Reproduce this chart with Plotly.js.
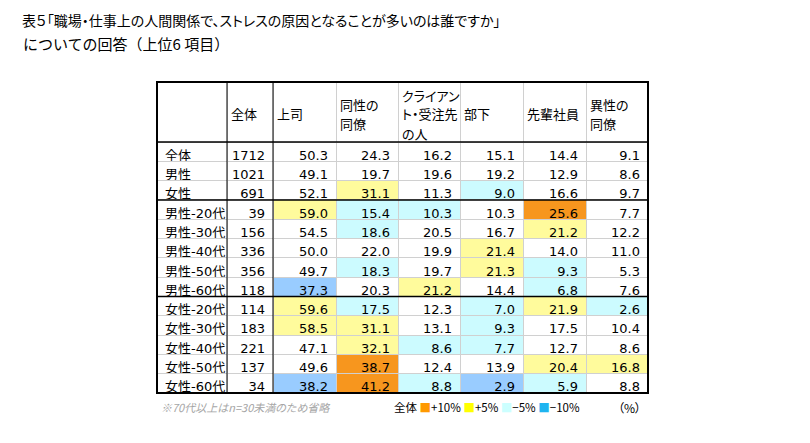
<!DOCTYPE html>
<html><head><meta charset="utf-8">
<script src="https://cdn.plot.ly/plotly-3.0.1.min.js"></script>
<style>
html,body{margin:0;padding:0;background:#fff;}
#chart{width:810px;height:443px;}
text, tspan{font-feature-settings:"palt" 1;}
text[style*="15.01px"], text[style*="15.01px"] tspan{font-feature-settings:normal;}
</style></head><body><div id="chart"></div>
<script>
// ---- data ----
const rowLabels = ['全体','男性','女性','男性-20代','男性-30代','男性-40代','男性-50代','男性-60代','女性-20代','女性-30代','女性-40代','女性-50代','女性-60代'];
const sampleSizes = [1712,1021,691,39,156,336,356,118,114,183,221,137,34];
const headerLabels = ['全体','上司','同性の<br>同僚','クライアン<br>ト・受注先<br>の人','部下','先輩社員','異性の<br>同僚'];
const joshi      = [50.3,49.1,52.1,59.0,54.5,50.0,49.7,37.3,59.6,58.5,47.1,49.6,38.2];
const doseiDoryo = [24.3,19.7,31.1,15.4,18.6,22.0,18.3,20.3,17.5,31.1,32.1,38.7,41.2];
const client     = [16.2,19.6,11.3,10.3,20.5,19.9,19.7,21.2,12.3,13.1,8.6,12.4,8.8];
const buka       = [15.1,19.2,9.0,10.3,16.7,21.4,21.3,14.4,7.0,9.3,7.7,13.9,2.9];
const senpai     = [14.4,12.9,16.6,25.6,21.2,14.0,9.3,6.8,21.9,17.5,12.7,20.4,5.9];
const iseiDoryo  = [9.1,8.6,9.7,7.7,12.2,11.0,5.3,7.6,2.6,10.4,8.6,16.8,8.8];
const legendPrefix = '全体';
const legendLabels = ['+10%','+5%','−5%','−10%'];
const footnote = '※70代以上はn=30未満のため省略';
const unitLabel = '（%）';
const titleLine1 = '表５「職場・仕事上の人間関係で、ストレスの原因となることが多いのは誰ですか」';
const titleLine2 = 'についての回答（上位6 項目）';

// ---- styles / layout constants ----
const W = 810, H = 443;
const FONT = 'DejaVu Sans, Noto Sans CJK JP, sans-serif';
const JFONT = 'Noto Sans CJK JP, sans-serif';
const C_ORANGE = '#F7961E', C_YELLOW = '#FFFB9C', C_CYAN = '#CCFBFF', C_BLUE = '#99CCFF';
const L_ORANGE = '#FF9900', L_YELLOW = '#FFFF00', L_CYAN = '#CCFFFF', L_BLUE = '#1EB4F0';
const colEdges = [157,227,273,336,398,460,523,586,648];
const tableTop = 82, headerH = 60, rowH = 19.3, headerLineH = 19;
const px = x => x / W, py = y => 1 - y / H;

const valueCols = [joshi, doseiDoryo, client, buka, senpai, iseiDoryo];
function cellColor(v, base) {
  const d = Math.round((v - base) * 10) / 10;
  if (d >= 10) return C_ORANGE;
  if (d >= 5) return C_YELLOW;
  if (d <= -10) return C_BLUE;
  if (d <= -5) return C_CYAN;
  return '#ffffff';
}
const fillColors = [rowLabels.map(() => '#ffffff'), sampleSizes.map(() => '#ffffff')]
  .concat(valueCols.map(col => col.map(v => cellColor(v, col[0]))));

const colWidths = [];
for (let i = 0; i < colEdges.length - 1; i++) colWidths.push(colEdges[i+1] - colEdges[i]);
const tableBottom = tableTop + headerH + rowH * rowLabels.length;

const trace = {
  type: 'table',
  domain: {x: [px(colEdges[0]), px(colEdges[colEdges.length-1])], y: [py(tableBottom + 8), py(tableTop)]},
  columnwidth: colWidths,
  header: {
    values: colWidths.map(() => ''),
    height: headerH,
    fill: {color: '#ffffff'},
    line: {color: '#d0d0d0', width: 1},
    font: {family: FONT, size: 13, color: '#000'}
  },
  cells: {
    values: [rowLabels, sampleSizes].concat(valueCols),
    format: ['', 'd', '.1f', '.1f', '.1f', '.1f', '.1f', '.1f'],
    align: ['left', 'right', 'right', 'right', 'right', 'right', 'right', 'right'],
    height: rowH,
    fill: {color: fillColors},
    line: {color: '#d0d0d0', width: 1},
    font: {family: FONT, size: 13, color: '#000'}
  }
};

const shapes = [];
shapes.push({type: 'rect', xref: 'paper', yref: 'paper', x0: px(colEdges[0]), x1: px(colEdges[colEdges.length-1]), y0: py(tableTop), y1: py(tableBottom), line: {color: '#000', width: 2}});
[0, 3, 8].forEach(r => {
  const y = tableTop + headerH + r * rowH;
  shapes.push({type: 'line', xref: 'paper', yref: 'paper', x0: px(colEdges[0]), x1: px(colEdges[colEdges.length-1]), y0: py(y), y1: py(y), line: {color: '#000', width: 1.5}});
});
[1, 2].forEach(c => {
  shapes.push({type: 'line', xref: 'paper', yref: 'paper', x0: px(colEdges[c]), x1: px(colEdges[c]), y0: py(tableTop), y1: py(tableBottom), line: {color: '#000', width: 1}});
});

const annotations = [];
const headerMid = tableTop + headerH / 2 + 2;
headerLabels.forEach((t, i) => {
  const lines = t.split('<br>');
  lines.forEach((ln, k) => {
    const yc = headerMid + (k - (lines.length - 1) / 2) * headerLineH;
    annotations.push({xref: 'paper', yref: 'paper', x: px(colEdges[i+1] + 2), y: py(yc), xanchor: 'left', yanchor: 'middle', align: 'left', showarrow: false, text: ln, font: {family: JFONT, size: 13, color: '#000'}});
  });
});
annotations.push({xref: 'paper', yref: 'paper', x: px(21), y: py(44), xanchor: 'left', yanchor: 'middle', showarrow: false, text: titleLine2, font: {family: JFONT, size: 15.01, color: '#000'}});
annotations.push({xref: 'paper', yref: 'paper', x: px(159), y: py(407), xanchor: 'left', yanchor: 'middle', showarrow: false, text: footnote, font: {family: JFONT, size: 11, color: '#a6a6a6', style: 'italic'}});
const legendColors = [L_ORANGE, L_YELLOW, L_CYAN, L_BLUE];
const legendText = legendPrefix + ' ' + legendLabels.map((l, i) => '<span style="color:' + legendColors[i] + '">■</span>' + l).join(' ');
annotations.push({xref: 'paper', yref: 'paper', x: px(392), y: py(407), xanchor: 'left', yanchor: 'middle', showarrow: false, text: legendText, font: {family: JFONT, size: 11.5, color: '#000'}});
annotations.push({xref: 'paper', yref: 'paper', x: px(643), y: py(407), xanchor: 'right', yanchor: 'middle', showarrow: false, text: unitLabel, font: {family: JFONT, size: 12, color: '#000'}});

const layout = {
  width: W, height: H,
  margin: {l: 0, r: 0, t: 0, b: 0},
  paper_bgcolor: '#fff', plot_bgcolor: '#fff',
  title: {text: titleLine1, x: px(22), xref: 'container', xanchor: 'left', y: py(21), yref: 'container', yanchor: 'middle', font: {family: JFONT, size: 14, color: '#000'}},
  shapes: shapes,
  annotations: annotations,
  showlegend: false
};
Plotly.newPlot('chart', [trace], layout, {displayModeBar: false, staticPlot: true});
</script></body></html>
